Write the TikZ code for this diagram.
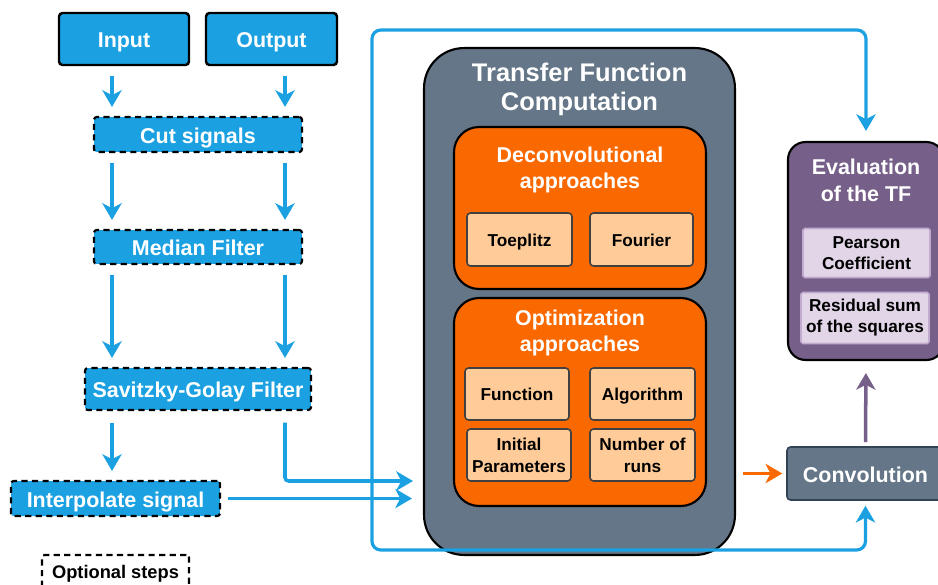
\documentclass[tikz,border=0pt]{standalone}
\usepackage{fontspec}
\setmainfont{Liberation Sans}
\usetikzlibrary{arrows.meta,positioning}
\definecolor{dblue}{HTML}{1BA1E2}
\definecolor{dorange}{HTML}{FA6800}
\definecolor{dslate}{HTML}{647687}
\definecolor{dslateline}{HTML}{314354}
\definecolor{dpurple}{HTML}{76608A}
\definecolor{dpeach}{HTML}{FFCC99}
\definecolor{dlilac}{HTML}{E1D5E7}
\definecolor{dlilacline}{HTML}{C3ABD0}
\tikzset{
  oneline/.style={text height=10.3pt, text depth=0.5pt},
  smallline/.style={text height=8.2pt, text depth=0.3pt},
  sigbox/.style={rectangle, rounded corners=2pt, draw=black, line width=1.4pt, fill=dblue,
    text=white, font=\bfseries\fontsize{12.2}{14}\selectfont, inner sep=1mm, oneline},
  optbox/.style={sigbox, rounded corners=1.5pt, line width=1.2pt, dash pattern=on 3.5pt off 2.5pt},
  tfbox/.style={rectangle, rounded corners=0.8cm, draw=black, line width=1.2pt, fill=dslate},
  apbox/.style={rectangle, rounded corners=0.5cm, draw=black, line width=1.2pt, fill=dorange},
  parbox/.style={rectangle, rounded corners=2pt, draw=black!75, line width=0.9pt, fill=dpeach,
    align=center, font=\bfseries\fontsize{9.8}{12.5}\selectfont, inner sep=0.5mm},
  evbox/.style={rectangle, rounded corners=0.35cm, draw=black, line width=1.2pt, fill=dpurple},
  metbox/.style={rectangle, rounded corners=1pt, draw=dlilacline, line width=0.9pt, fill=dlilac,
    align=center, font=\bfseries\fontsize{9.8}{12}\selectfont, inner sep=0.5mm},
  title/.style={align=center, text=white, font=\bfseries\fontsize{12.2}{15.2}\selectfont},
  barr/.style={-{Stealth[length=9.5pt,width=11pt,inset=2.8pt]}, line width=2pt, draw=dblue},
  oarr/.style={-{Stealth[length=9.5pt,width=11pt,inset=2.8pt]}, line width=2pt, draw=dorange},
  parr/.style={-{Stealth[length=9.5pt,width=11pt,inset=2.8pt]}, line width=2pt, draw=dpurple},
}
\begin{document}
\begin{tikzpicture}[x=0.02cm,y=-0.02cm]
    \useasboundingbox (0,0) rectangle (938,585);
    \clip (0,0) rectangle (938,585);
    % signal preparation
    \node[sigbox, minimum width=2.6cm, minimum height=1.04cm] (inp) at (124,39) {Input};
    \node[sigbox, minimum width=2.62cm, minimum height=1.04cm] (outp) at (271.5,39) {Output};
    \node[optbox, minimum width=4.16cm, minimum height=0.7cm] (cut) at (198,134.5) {Cut signals};
    \node[optbox, minimum width=4.16cm, minimum height=0.68cm] (med) at (198,247) {Median Filter};
    \node[optbox, minimum width=4.52cm, minimum height=0.84cm] (sg) at (198,389) {Savitzky-Golay Filter};
    \node[optbox, minimum width=4.18cm, minimum height=0.7cm] (interp) at (115.5,498.5) {Interpolate signal};
    \node[optbox, fill=white, text=black, font=\bfseries\fontsize{10.4}{12}\selectfont, smallline,
      minimum width=2.94cm, minimum height=0.68cm] (legend) at (115.5,572) {Optional steps};
    \coordinate (colL) at (112,0);
    \coordinate (colR) at (285,0);
    % transfer function computation
    \node[tfbox, minimum width=6.22cm, minimum height=10.14cm] (tfc) at (579.5,301.5) {};
    \node[title, font=\bfseries\fontsize{14.5}{16.5}\selectfont] (tft) at (579.5,89.5) {Transfer Function\\Computation};
    \node[apbox, minimum width=5.04cm, minimum height=3.24cm] (dec) at (580,208) {};
    \node[title] (dect) at (580,170) {Deconvolutional\\approaches};
    \node[parbox, smallline, minimum width=2.1cm, minimum height=1.06cm] (toep) at (519.5,239.5) {Toeplitz};
    \node[parbox, smallline, minimum width=2.06cm, minimum height=1.06cm] (four) at (641.5,239.5) {Fourier};
    \node[apbox, minimum width=5.04cm, minimum height=4.16cm] (opt) at (580,402) {};
    \node[title] (optt) at (580,333) {Optimization\\approaches};
    \node[parbox, smallline, minimum width=2.08cm, minimum height=1.04cm] (func) at (517,394) {Function};
    \node[parbox, smallline, minimum width=2.1cm, minimum height=1.04cm] (algo) at (642.5,394) {Algorithm};
    \node[parbox, minimum width=2.08cm, minimum height=1.04cm] (init) at (519,455) {Initial\\Parameters};
    \node[parbox, minimum width=2.1cm, minimum height=1.04cm] (runs) at (642.5,455) {Number of\\runs};
    % convolution and evaluation
    \node[sigbox, fill=dslate, draw=dslateline, line width=0.9pt,
      minimum width=3.14cm, minimum height=1.06cm] (conv) at (865.5,473.5) {Convolution};
    \node[evbox, minimum width=3.12cm, minimum height=4.36cm] (eval) at (866,251) {};
    \node[title] (evalt) at (866,180) {Evaluation\\of the TF};
    \node[metbox, minimum width=2.54cm, minimum height=0.98cm] (pear) at (866.5,253) {Pearson\\Coefficient};
    \node[metbox, minimum width=2.56cm, minimum height=1.02cm] (rss) at (865,318) {Residual sum\\of the squares};
    % arrows
    \foreach \a/\b in {inp/cut,cut/med,med/sg}{
      \draw[barr, shorten <=1.9mm, shorten >=1.8mm] (\a.south -| colL) -- (\b.north -| colL);}
    \foreach \a/\b in {outp/cut,cut/med,med/sg}{
      \draw[barr, shorten <=1.9mm, shorten >=1.8mm] (\a.south -| colR) -- (\b.north -| colR);}
    \draw[barr, shorten <=2.3mm, shorten >=1.8mm] (sg.south -| colL) -- (interp.north -| colL);
    \coordinate (inA) at (424,481);
    \draw[barr, rounded corners=2pt, shorten <=2.3mm, shorten >=2.2mm] (sg.south -| colR) |- (inA);
    \draw[barr, shorten <=1.4mm, shorten >=2.2mm] (interp.east) -- (interp.east -| tfc.west);
    \coordinate (lt) at (372,30);
    \coordinate (lb) at (372,550);
    \draw[barr, {Stealth[length=9.5pt,width=11pt,inset=2.8pt]}-{Stealth[length=9.5pt,width=11pt,inset=2.8pt]},
      line width=1.8pt, rounded corners=5pt, shorten <=2mm, shorten >=1mm]
      (eval.north) |- (lt) -- (lb) -| (conv.south);
    \draw[oarr, shorten <=1.4mm, shorten >=0.8mm] (tfc.east |- conv.west) -- (conv.west);
    \draw[parr, shorten <=0.8mm, shorten >=2.4mm] (conv.north) -- (eval.south);
\end{tikzpicture}
\end{document}
